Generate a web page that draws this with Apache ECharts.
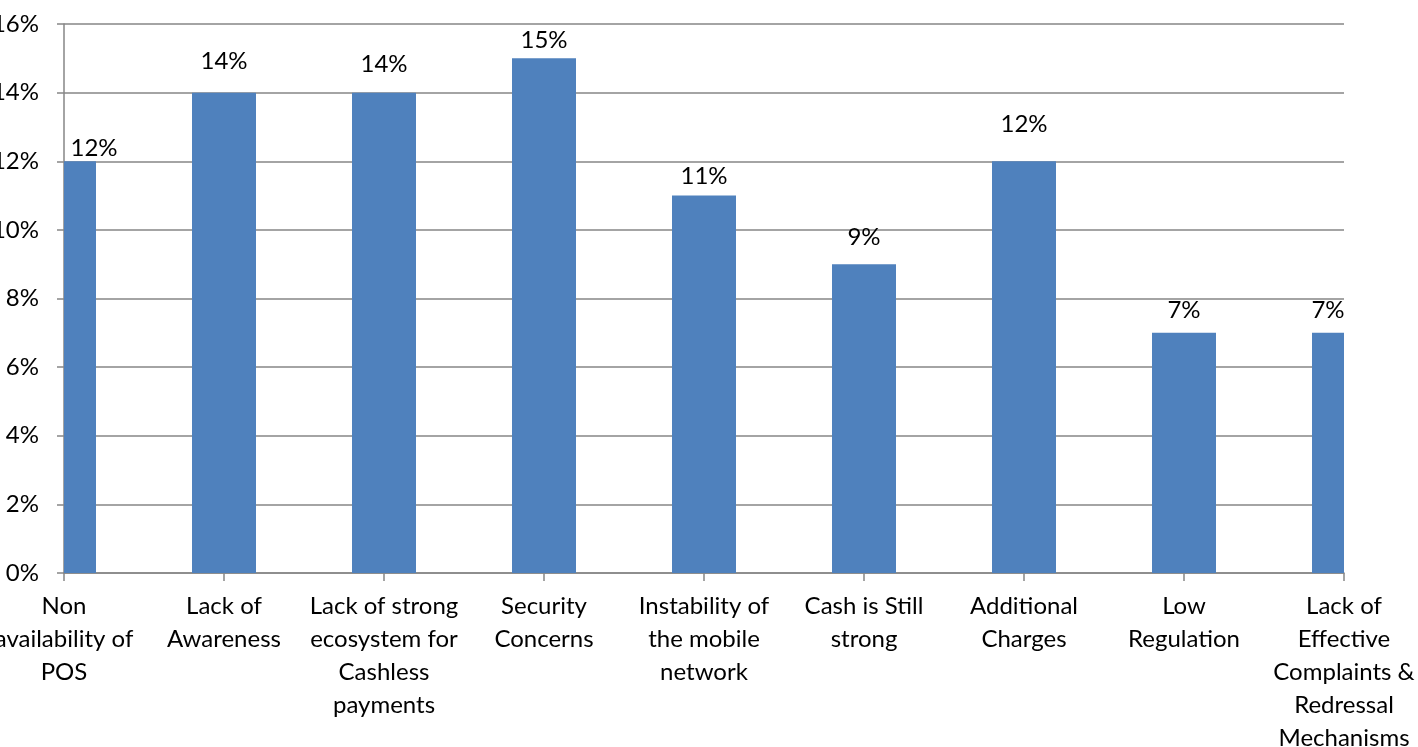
<!DOCTYPE html>
<html>
<head>
<meta charset="utf-8">
<script src="https://cdn.jsdelivr.net/npm/echarts@6/dist/echarts.min.js"></script>
<style>
html,body{margin:0;padding:0;background:#fff;}
#chart{width:1418px;height:747px;}
</style>
</head>
<body>
<div id="chart"></div>
<script>
const categories = [
  "Non\navailability of\nPOS",
  "Lack of\nAwareness",
  "Lack of strong\necosystem for\nCashless\npayments",
  "Security\nConcerns",
  "Instability of\nthe mobile\nnetwork",
  "Cash is Still\nstrong",
  "Additional\nCharges",
  "Low\nRegulation",
  "Lack of\nEffective\nComplaints &\nRedressal\nMechanisms"
];
const values = [12, 14, 14, 15, 11, 9, 12, 7, 7];
const yTicks = { min: 0, max: 16, interval: 2 };

// styling (kept apart from the data)
const FONT = 'Lato';
const FONT_SIZE = 24;
const gray = '#868686';
const barColor = '#4F81BD';
const BAR_RATIO = 0.4;        // bar width as a share of the category spacing
const LEFT_CLIP_SHIFT = 14;   // label nudge when a bar is cut by the left axis
// gap (px) between each bar top and its value label, as placed in the original
const labelGaps = [1, 19, 16, 6, 7, 15, 25, 11, 11];

function renderBar(params, api) {
  const xi = api.value(0);
  const v = api.value(1);
  const top = api.coord([xi, v]);
  const base = api.coord([xi, 0]);
  const w = api.size([1, 0])[0] * BAR_RATIO;
  const rect = { x: top[0] - w / 2, y: top[1], width: w, height: base[1] - top[1] };
  const cs = params.coordSys;
  const clipped = echarts.graphic.clipRectByRect(rect, {
    x: cs.x, y: cs.y, width: cs.width, height: cs.height
  });
  if (!clipped) return;
  let cx = clipped.x + clipped.width / 2;
  if (clipped.x > rect.x + 0.5) cx += LEFT_CLIP_SHIFT;
  return {
    type: 'group',
    children: [
      { type: 'rect', shape: clipped, style: { fill: barColor } },
      {
        type: 'text',
        style: {
          text: v + '%',
          x: cx,
          y: clipped.y - labelGaps[params.dataIndex],
          align: 'center',
          verticalAlign: 'bottom',
          fill: '#000',
          fontFamily: FONT,
          fontSize: FONT_SIZE
        }
      }
    ]
  };
}

const chart = echarts.init(document.getElementById('chart'), null, { renderer: 'canvas' });
chart.setOption({
  backgroundColor: '#ffffff',
  animation: false,
  grid: { left: 64, right: 74, top: 24, bottom: 174, containLabel: false, outerBoundsMode: 'none' },
  xAxis: {
    type: 'category',
    data: categories,
    boundaryGap: false,
    axisLine: { show: true, lineStyle: { color: gray, width: 1.5 } },
    axisTick: { show: true, length: 8, interval: 0, lineStyle: { color: gray, width: 1.5 } },
    axisLabel: {
      interval: 0,
      margin: 17,
      color: '#000',
      fontFamily: FONT,
      fontSize: FONT_SIZE,
      lineHeight: 33,
      align: 'center',
      hideOverlap: false
    },
    splitLine: { show: false }
  },
  yAxis: {
    type: 'value',
    min: yTicks.min,
    max: yTicks.max,
    interval: yTicks.interval,
    axisLine: { show: true, lineStyle: { color: gray, width: 1.5 } },
    axisTick: { show: true, length: 7, lineStyle: { color: gray, width: 1.5 } },
    axisLabel: {
      formatter: '{value}%',
      color: '#000',
      fontFamily: FONT,
      fontSize: FONT_SIZE,
      margin: 25
    },
    splitLine: { show: true, lineStyle: { color: gray, width: 1.5 } }
  },
  series: [{
    type: 'custom',
    renderItem: renderBar,
    data: values.map((v, i) => [i, v]),
    encode: { x: 0, y: 1 },
    clip: false
  }]
});
</script>
</body>
</html>
